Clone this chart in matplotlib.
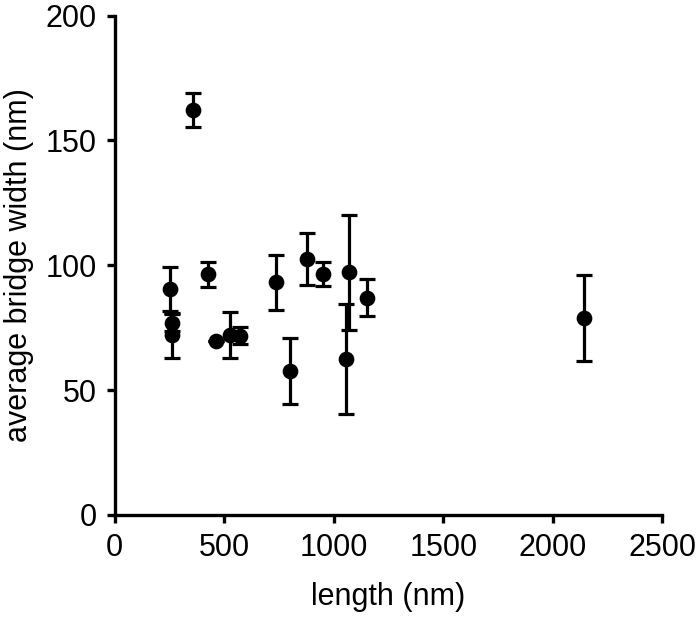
import matplotlib
matplotlib.use("Agg")
import matplotlib.pyplot as plt

plt.rcParams['font.family'] = ['Liberation Sans', 'DejaVu Sans']

length_nm = [250, 262, 262, 355, 426, 460, 526, 571, 736, 800, 876, 952, 1056, 1068, 1150, 2142]
width_nm = [90.5, 77.0, 72.0, 162.2, 96.5, 69.8, 72.0, 71.8, 93.2, 57.7, 102.5, 96.4, 62.5, 97.2, 87.0, 78.8]
width_err = [9.0, 3.5, 9.0, 6.7, 5.0, 0.0, 9.3, 3.4, 11.0, 13.3, 10.5, 4.8, 22.2, 23.0, 7.4, 17.2]

x_ticks = [0, 500, 1000, 1500, 2000, 2500]
y_ticks = [0, 50, 100, 150, 200]

fig = plt.figure(figsize=(7.0, 6.18), dpi=100)
ax = fig.add_axes([0.164, 0.1667, 0.782, 0.808])

ax.errorbar(length_nm, width_nm, yerr=width_err, fmt='o', color='black',
            markersize=10.3, elinewidth=2.3, capsize=5.5, capthick=2.3,
            clip_on=False, zorder=3)

ax.set_xlim(0, 2500)
ax.set_ylim(0, 200)
ax.set_xticks(x_ticks)
ax.set_yticks(y_ticks)

for side in ['top', 'right']:
    ax.spines[side].set_visible(False)
for side in ['left', 'bottom']:
    ax.spines[side].set_linewidth(2.4)

ax.tick_params(axis='both', direction='out', length=6, width=2.4,
               labelsize=22, pad=7)

ax.set_xlabel('length (nm)', fontsize=22, labelpad=14)
ax.set_ylabel('average bridge width (nm)', fontsize=22, labelpad=8)

fig.savefig('out.png', dpi=100)
